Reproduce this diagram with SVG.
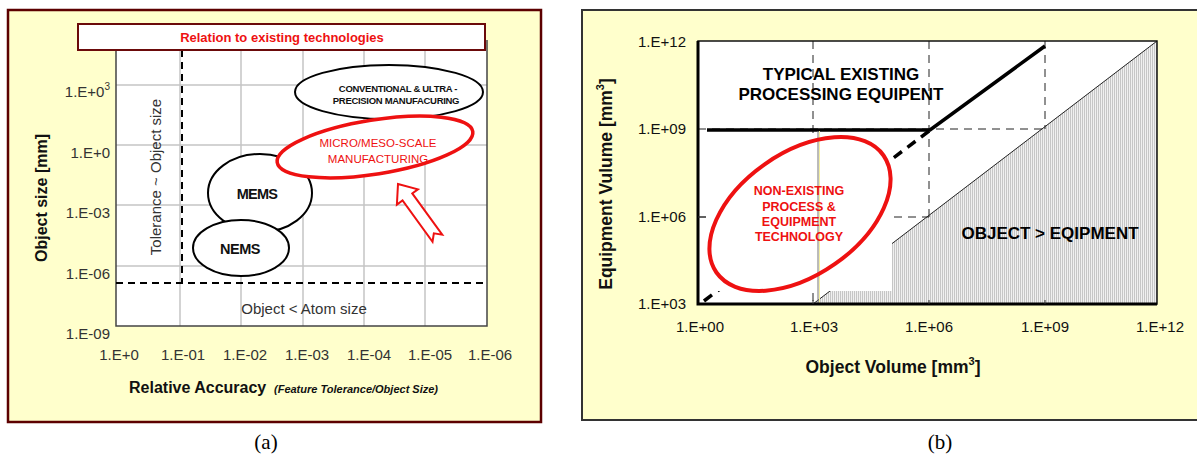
<svg xmlns="http://www.w3.org/2000/svg" width="1197" height="457" viewBox="0 0 1197 457">
  <style>
    text { font-family: "Liberation Sans", Arial, Helvetica, sans-serif; }
    .tick { font-size: 15px; fill: #333; }
    .tickb { font-size: 15px; fill: #111; }
    .ax { font-size: 16px; font-weight: bold; fill: #111; }
    .axb { font-size: 17.5px; font-weight: bold; fill: #111; }
    .grid { stroke: #c4c4c4; stroke-width: 1.5; }
    .dash { stroke: #000; stroke-width: 2; stroke-dasharray: 7 5; fill: none; }
    .guide { stroke: #222; stroke-width: 1; stroke-dasharray: 8 6; fill: none; }
    .bubble { fill: #fff; stroke: #000; stroke-width: 2; }
    .red { fill: #ee1111; }
    .big { font-size: 17px; font-weight: bold; fill: #000; }
    .cap { font-family: "Liberation Serif", "Times New Roman", serif; font-size: 21px; fill: #000; }
  </style>
  <defs>
    <pattern id="hatch" width="2" height="2" patternUnits="userSpaceOnUse">
      <rect width="2" height="2" fill="#f0f0f0"/>
      <rect width="1" height="2" fill="#c6c6c6"/>
    </pattern>
  </defs>

  <!-- ===== Panel (a): size vs. relative accuracy ===== -->
  <g id="panel-a">
    <rect x="8" y="10" width="533" height="412" fill="#ffffcc" stroke="#5c0000" stroke-width="2.5"/>
    <rect x="116" y="50" width="371" height="276" fill="#fff"/>
    <g id="grid-a">
      <line class="grid" x1="180" y1="50" x2="180" y2="326"/>
      <line class="grid" x1="241" y1="50" x2="241" y2="326"/>
      <line class="grid" x1="303" y1="50" x2="303" y2="326"/>
      <line class="grid" x1="364" y1="50" x2="364" y2="326"/>
      <line class="grid" x1="425" y1="50" x2="425" y2="326"/>
      <line class="grid" x1="116" y1="85" x2="487" y2="85"/>
      <line class="grid" x1="116" y1="145" x2="487" y2="145"/>
      <line class="grid" x1="116" y1="205" x2="487" y2="205"/>
      <line class="grid" x1="116" y1="266" x2="487" y2="266"/>
    </g>
    <path d="M116 40 V326 H487 V40" fill="none" stroke="#444" stroke-width="1.5"/>

    <!-- limit lines -->
    <line class="dash" x1="182" y1="50" x2="182" y2="283"/>
    <line class="dash" x1="116" y1="283" x2="487" y2="283"/>

    <!-- title bar -->
    <g id="title-a">
      <rect x="78" y="24" width="407" height="26" fill="#fff" stroke="#6b0a0a" stroke-width="2"/>
      <text x="282" y="41.5" text-anchor="middle" font-size="13" font-weight="bold" class="red">Relation to existing technologies</text>
    </g>

    <!-- y tick labels -->
    <g text-anchor="end" class="tick">
      <text x="110" y="97">1.E+0<tspan font-size="10" dy="-7">3</tspan></text>
      <text x="110" y="158">1.E+0</text>
      <text x="110" y="218">1.E-03</text>
      <text x="110" y="279">1.E-06</text>
      <text x="110" y="339">1.E-09</text>
    </g>
    <!-- x tick labels -->
    <g text-anchor="middle" class="tick">
      <text x="119" y="360">1.E+0</text>
      <text x="183" y="360">1.E-01</text>
      <text x="245" y="360">1.E-02</text>
      <text x="307" y="360">1.E-03</text>
      <text x="369" y="360">1.E-04</text>
      <text x="430" y="360">1.E-05</text>
      <text x="490" y="360">1.E-06</text>
    </g>

    <!-- axis titles -->
    <text x="129" y="393" class="ax">Relative Accuracy</text>
    <text x="274" y="393" font-size="11" font-weight="bold" font-style="italic" fill="#111">(Feature Tolerance/Object Size)</text>
    <text transform="translate(47,198) rotate(-90)" text-anchor="middle" class="ax">Object size [mm]</text>

    <!-- region notes -->
    <text transform="translate(161,177) rotate(-90)" text-anchor="middle" class="tick">Tolerance ~ Object size</text>
    <text x="304" y="314" text-anchor="middle" class="tick" font-size="14.5">Object &lt; Atom size</text>
  </g>

  <g id="node-conventional">
    <ellipse class="bubble" cx="389" cy="92" rx="94" ry="27"/>
    <text x="398" y="92" text-anchor="middle" font-size="9.5" font-weight="bold" letter-spacing="-0.3" fill="#111">CONVENTIONAL &amp; ULTRA  -</text>
    <text x="396" y="104" text-anchor="middle" font-size="9.5" font-weight="bold" letter-spacing="-0.3" fill="#111">PRECISION MANUFACURING</text>
  </g>

  <g id="node-mems">
    <ellipse class="bubble" cx="260" cy="193" rx="52" ry="39"/>
    <text x="257" y="199" text-anchor="middle" font-size="14.5" font-weight="bold" letter-spacing="-0.8" fill="#111">MEMS</text>
  </g>

  <g id="node-nems">
    <ellipse class="bubble" cx="241" cy="248" rx="48" ry="28"/>
    <text x="240" y="254" text-anchor="middle" font-size="14.5" font-weight="bold" letter-spacing="-0.5" fill="#111">NEMS</text>
  </g>

  <g id="node-micro">
    <ellipse cx="375" cy="147" rx="99" ry="27" transform="rotate(-9 375 147)" fill="#fff" stroke="#ee1111" stroke-width="3.5"/>
    <text x="378" y="147" text-anchor="middle" font-size="11.5" class="red">MICRO/MESO-SCALE</text>
    <text x="378" y="163" text-anchor="middle" font-size="11.5" class="red">MANUFACTURING</text>
  </g>

  <g id="connectors">
    <!-- hollow block arrow pointing at the micro/meso region -->
    <polygon points="0,0 13,16 6,16 6,67 0,61 -6,67 -6,16 -13,16" transform="translate(398,184) rotate(-36)" fill="#fff" stroke="#ee1111" stroke-width="2"/>
  </g>

  <text x="266" y="449" text-anchor="middle" class="cap">(a)</text>

  <!-- ===== Panel (b): equipment volume vs. object volume ===== -->
  <g id="panel-b">
    <rect x="582" y="10" width="640" height="410" fill="#ffffcc" stroke="#333" stroke-width="2"/>
    <rect x="698" y="41" width="459" height="263" fill="#fff"/>

    <!-- object larger than equipment -->
    <polygon points="813,304 1157,41 1157,304" fill="url(#hatch)"/>
    <line x1="813" y1="304" x2="1157" y2="41" stroke="#222" stroke-width="1"/>

    <!-- guide lines -->
    <line class="guide" x1="813" y1="41" x2="813" y2="304"/>
    <line class="guide" x1="929" y1="41" x2="929" y2="217"/>
    <line class="guide" x1="1045" y1="41" x2="1045" y2="129"/>
    <line class="guide" x1="698" y1="129" x2="1045" y2="129"/>
    <line class="guide" x1="698" y1="217" x2="929" y2="217"/>

    <!-- existing equipment envelope -->
    <polyline points="707,130 930,130 1045,46" fill="none" stroke="#000" stroke-width="3.5"/>
    <line x1="929" y1="131" x2="700" y2="304" stroke="#000" stroke-width="3.5" stroke-dasharray="10 7"/>

    <!-- label panel behind the ellipse -->
    <rect x="706" y="133" width="186" height="158" fill="#fff"/>
    <line x1="818" y1="131" x2="818" y2="304" stroke="#777" stroke-width="1"/>
    <line x1="819.5" y1="131" x2="819.5" y2="304" stroke="#f4efa0" stroke-width="1"/>

    <!-- plot frame -->
    <rect x="698" y="41" width="459" height="263" fill="none" stroke="#111" stroke-width="1.5"/>
    <path d="M698 41 V304 H1157" fill="none" stroke="#000" stroke-width="3"/>
    <g stroke="#333" stroke-width="1">
      <line x1="698" y1="217" x2="706" y2="217"/>
      <line x1="813" y1="304" x2="813" y2="300"/>
      <line x1="929" y1="304" x2="929" y2="300"/>
      <line x1="1045" y1="304" x2="1045" y2="300"/>
    </g>

    <!-- tick labels -->
    <g text-anchor="end" class="tickb">
      <text x="686" y="47">1.E+12</text>
      <text x="686" y="134">1.E+09</text>
      <text x="686" y="222">1.E+06</text>
      <text x="686" y="309">1.E+03</text>
    </g>
    <g text-anchor="middle" class="tickb">
      <text x="700" y="332">1.E+00</text>
      <text x="814" y="332">1.E+03</text>
      <text x="929" y="332">1.E+06</text>
      <text x="1045" y="332">1.E+09</text>
      <text x="1160" y="332">1.E+12</text>
    </g>

    <!-- axis titles -->
    <text x="893" y="373" text-anchor="middle" class="axb">Object Volume [mm<tspan font-size="11" dy="-8">3</tspan><tspan dy="8">]</tspan></text>
    <text transform="translate(612,184) rotate(-90)" text-anchor="middle" class="axb">Equipment Vulume [mm<tspan font-size="11" dy="-8">3</tspan><tspan dy="8">]</tspan></text>

    <!-- region labels -->
    <text x="841" y="80" text-anchor="middle" class="big">TYPICAL EXISTING</text>
    <text x="841" y="100" text-anchor="middle" class="big">PROCESSING EQUIPENT</text>
    <text x="1050" y="239" text-anchor="middle" class="big">OBJECT &gt; EQIPMENT</text>
  </g>

  <g id="node-nonexisting">
    <ellipse cx="800" cy="214" rx="102" ry="61" transform="rotate(-35 800 214)" fill="none" stroke="#ee1111" stroke-width="4"/>
    <g text-anchor="middle" font-size="12.5" font-weight="bold" class="red">
      <text x="799" y="195">NON-EXISTING</text>
      <text x="799" y="211">PROCESS &amp;</text>
      <text x="799" y="226">EQUIPMENT</text>
      <text x="799" y="241">TECHNOLOGY</text>
    </g>
  </g>

  <text x="940" y="449" text-anchor="middle" class="cap">(b)</text>
</svg>
